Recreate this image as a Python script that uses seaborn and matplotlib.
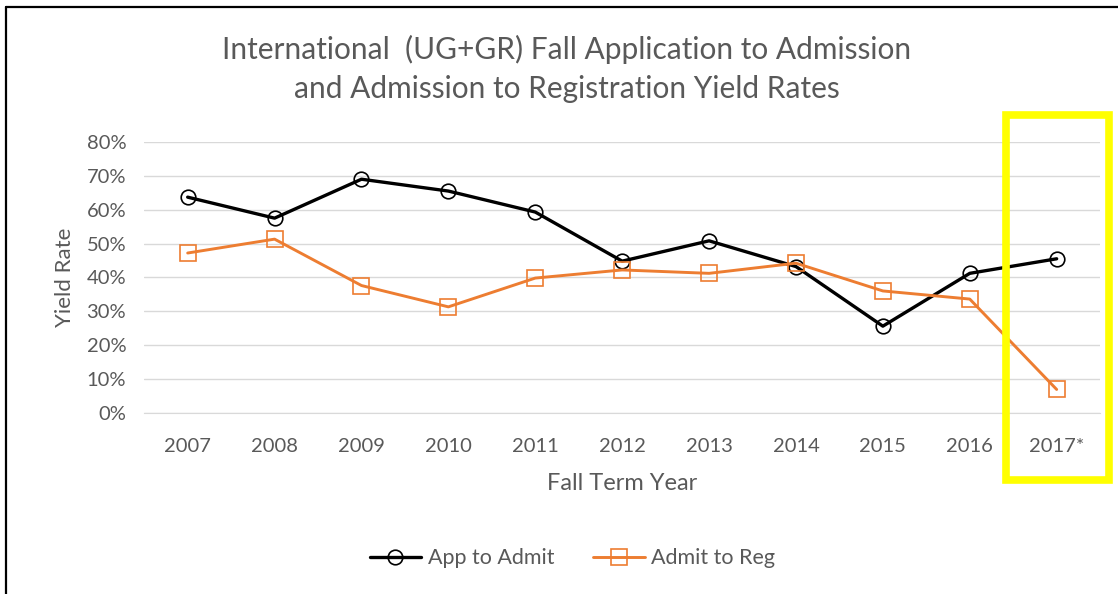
import pandas as pd
import matplotlib.pyplot as plt
import seaborn as sns
from matplotlib.patches import Rectangle
from matplotlib.lines import Line2D
from matplotlib.ticker import PercentFormatter

# Yield rates
years = ['2007', '2008', '2009', '2010', '2011', '2012', '2013', '2014', '2015', '2016', '2017*']
app_to_admit = [63.7, 57.5, 69.0, 65.5, 59.3, 44.8, 50.8, 43.2, 25.6, 41.2, 45.5]
admit_to_reg = [47.2, 51.3, 37.6, 31.3, 39.8, 42.2, 41.2, 44.2, 36.0, 33.6, 6.9]

df = pd.DataFrame({'Year': years, 'App to Admit': app_to_admit, 'Admit to Reg': admit_to_reg})

sns.set_style('white')
plt.rcParams['font.family'] = ['Lato', 'DejaVu Sans']
grey = '#595959'

fig = plt.figure(figsize=(11.18, 5.94), dpi=100)
ax = fig.add_axes([0.129, 0.305, 0.855, 0.456])

sns.lineplot(data=df, x='Year', y='App to Admit', ax=ax, color='black', lw=2.4,
             marker='o', markersize=10.5, mfc='none', mec='black', mew=1.2,
             label='App to Admit', sort=False)
sns.lineplot(data=df, x='Year', y='Admit to Reg', ax=ax, color='#ED7D31', lw=2.1,
             marker='s', markersize=11, mfc='none', mec='#ED7D31', mew=1.2,
             label='Admit to Reg', sort=False)

ax.set_xlim(-0.5, len(years) - 0.5)
ax.set_ylim(0, 80)
ax.set_yticks(range(0, 81, 10))
ax.yaxis.set_major_formatter(PercentFormatter(decimals=0))
ax.grid(axis='y', color='#D9D9D9', lw=1)
ax.set_axisbelow(True)
for s in ['top', 'right', 'left']:
    ax.spines[s].set_visible(False)
ax.spines['bottom'].set_color('#D9D9D9')
ax.tick_params(axis='x', colors='#D9D9D9', length=6, width=1, labelcolor=grey, labelsize=14.5, pad=12)
ax.tick_params(axis='y', length=0, labelcolor=grey, labelsize=14.5, pad=13)

ax.set_xlabel('Fall Term Year', color=grey, fontsize=17, labelpad=13)
ax.set_ylabel('Yield Rate', color=grey, fontsize=16, labelpad=8)

fig.text(0.507, 0.884, 'International  (UG+GR) Fall Application to Admission\nand Admission to Registration Yield Rates',
         ha='center', va='center', fontsize=21.5, color=grey, linespacing=1.45)

ax.get_legend().remove()
handles, labels = ax.get_legend_handles_labels()
fig.legend(handles, labels, loc='center', bbox_to_anchor=(0.512, 0.06), ncol=2, frameon=False,
           fontsize=15.5, labelcolor=grey, handlelength=2.4, columnspacing=1.8, handletextpad=0.3)

# highlight box around the partial year
fig.patches.append(Rectangle((1006 / 1118, 1 - 480 / 594), 103 / 1118, 365 / 594,
                             transform=fig.transFigure, fill=False, ec='#FFFF00', lw=5.5))

# partial frame lines at left and top
fig.lines.append(Line2D([6 / 1118, 6 / 1118], [0, 1 - 7 / 594], transform=fig.transFigure, color='black', lw=1.6))
fig.lines.append(Line2D([6 / 1118, 1], [1 - 7 / 594, 1 - 7 / 594], transform=fig.transFigure, color='black', lw=1.6))

fig.savefig('out.png', dpi=100)
